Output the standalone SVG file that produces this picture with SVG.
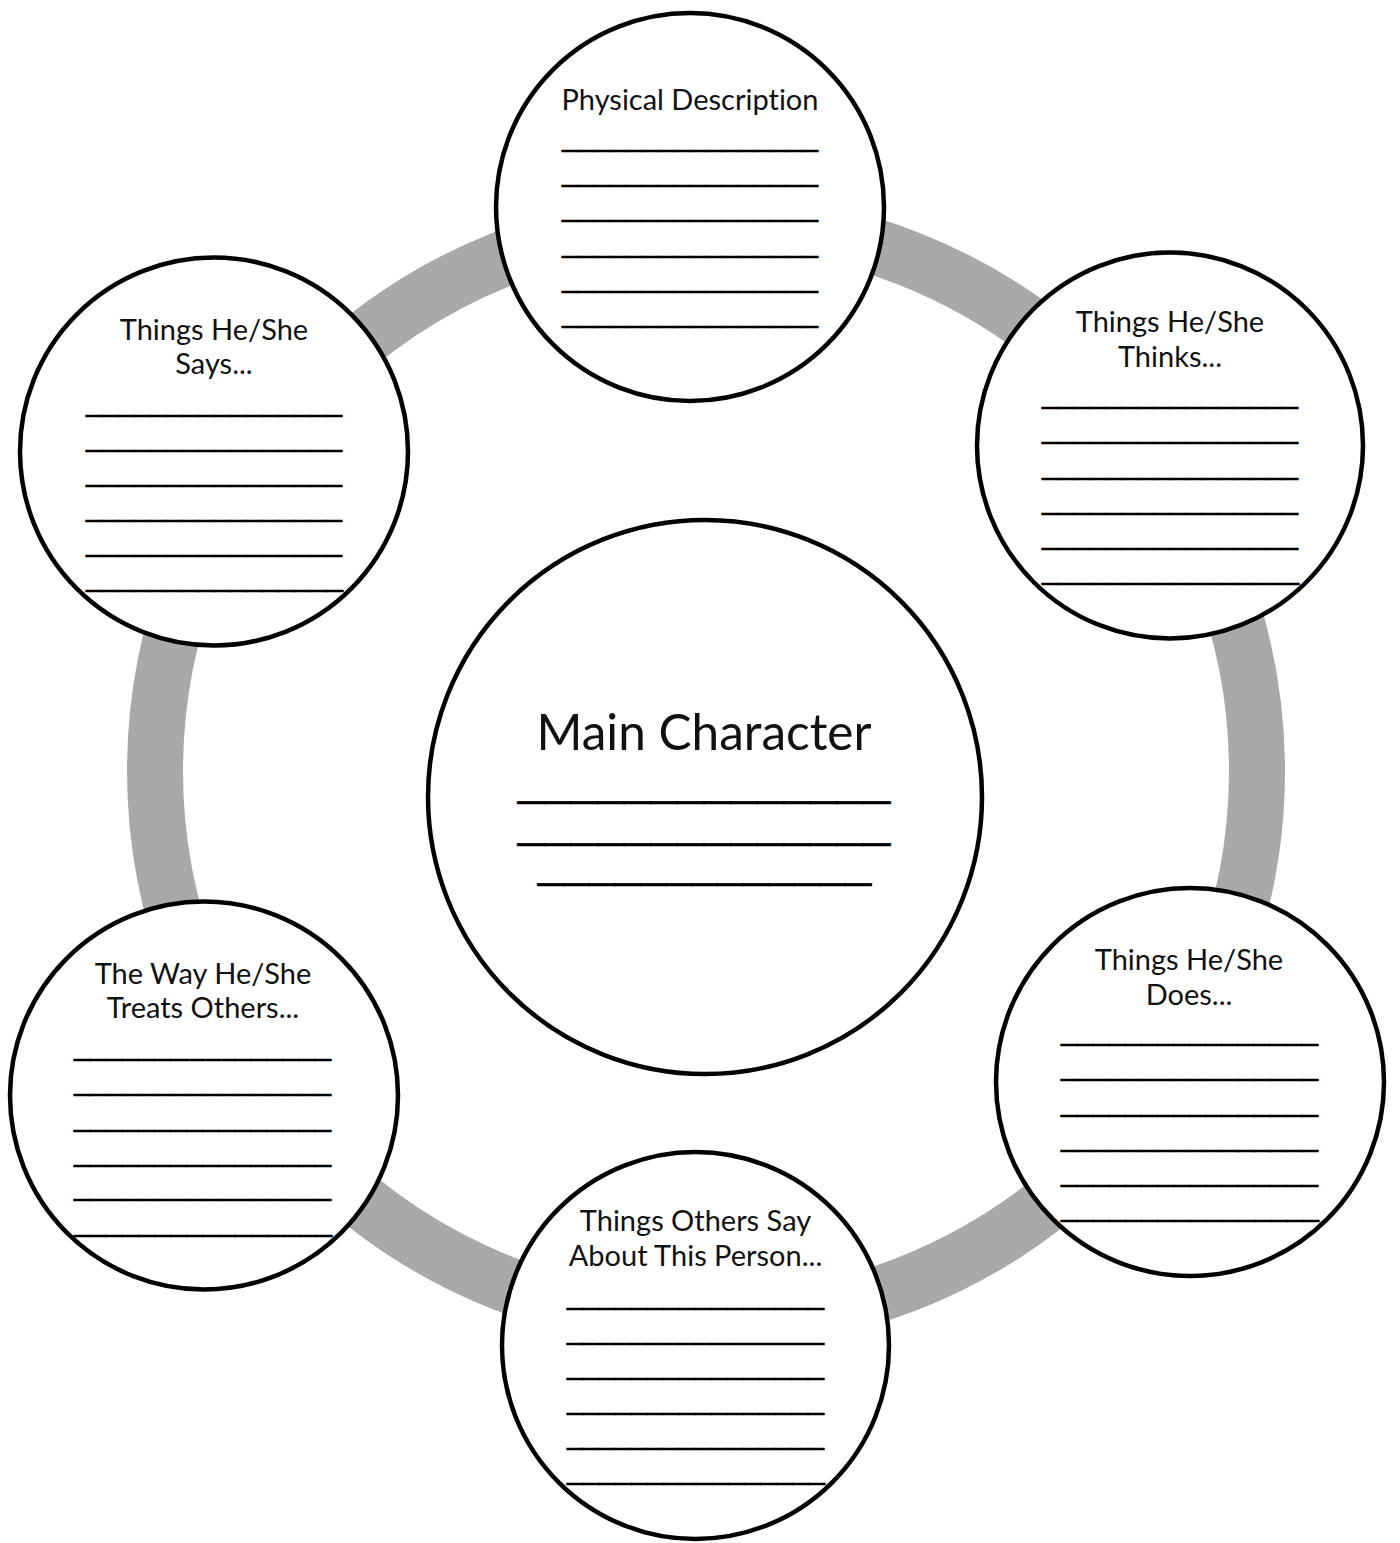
<svg xmlns="http://www.w3.org/2000/svg" width="1400" height="1543" viewBox="0 0 1400 1543">
<style>
.bg{fill:#ffffff}
.ring{fill:none;stroke:#a9a9a9;stroke-width:56}
.node{fill:#ffffff;stroke:#000000;stroke-width:4.5}
.lbl{font-family:Lato,"Liberation Sans",sans-serif;font-size:29px;fill:#111111;text-anchor:middle;font-variant-ligatures:none}
.main{font-family:Lato,"Liberation Sans",sans-serif;font-size:49.5px;fill:#111111;text-anchor:middle;font-variant-ligatures:none}
.ul{font-family:"Liberation Sans",Arial,sans-serif;font-size:32px;fill:#000000;stroke:#000000;stroke-width:0.6}
</style>
<rect class="bg" x="0" y="0" width="1400" height="1543"/>
<g id="connectors">
<circle class="ring" cx="706" cy="771" r="551"/>
</g>
<g id="physical-description">
<circle class="node" cx="690" cy="207" r="194"/>
<text class="lbl" x="690" y="110">Physical Description</text>
<text class="ul" x="562" y="145.5" textLength="256" lengthAdjust="spacingAndGlyphs">________________</text>
<text class="ul" x="562" y="181" textLength="256" lengthAdjust="spacingAndGlyphs">________________</text>
<text class="ul" x="562" y="216" textLength="256" lengthAdjust="spacingAndGlyphs">________________</text>
<text class="ul" x="562" y="251.5" textLength="256" lengthAdjust="spacingAndGlyphs">________________</text>
<text class="ul" x="562" y="286.5" textLength="256" lengthAdjust="spacingAndGlyphs">________________</text>
<text class="ul" x="562" y="322" textLength="256" lengthAdjust="spacingAndGlyphs">________________</text>
</g>
<g id="things-thinks">
<circle class="node" cx="1170" cy="445.5" r="193"/>
<text class="lbl" x="1170" y="332">Things He/She</text>
<text class="lbl" x="1170" y="367">Thinks...</text>
<text class="ul" x="1042" y="403" textLength="256" lengthAdjust="spacingAndGlyphs">________________</text>
<text class="ul" x="1042" y="438" textLength="256" lengthAdjust="spacingAndGlyphs">________________</text>
<text class="ul" x="1042" y="474" textLength="256" lengthAdjust="spacingAndGlyphs">________________</text>
<text class="ul" x="1042" y="508.5" textLength="256" lengthAdjust="spacingAndGlyphs">________________</text>
<text class="ul" x="1042" y="543.5" textLength="256" lengthAdjust="spacingAndGlyphs">________________</text>
<text class="ul" x="1042" y="578.5" textLength="257" lengthAdjust="spacingAndGlyphs">________________</text>
</g>
<g id="things-says">
<circle class="node" cx="214" cy="451.5" r="194"/>
<text class="lbl" x="214" y="339.5">Things He/She</text>
<text class="lbl" x="214" y="373.5">Says...</text>
<text class="ul" x="86" y="410.5" textLength="256" lengthAdjust="spacingAndGlyphs">________________</text>
<text class="ul" x="86" y="445.5" textLength="256" lengthAdjust="spacingAndGlyphs">________________</text>
<text class="ul" x="86" y="481" textLength="256" lengthAdjust="spacingAndGlyphs">________________</text>
<text class="ul" x="86" y="515.5" textLength="256" lengthAdjust="spacingAndGlyphs">________________</text>
<text class="ul" x="86" y="551" textLength="256" lengthAdjust="spacingAndGlyphs">________________</text>
<text class="ul" x="86" y="586" textLength="257" lengthAdjust="spacingAndGlyphs">________________</text>
</g>
<g id="main-character">
<circle class="node" cx="705" cy="797" r="277"/>
<text class="main" x="704" y="750">Main Character</text>
<text class="ul" x="518" y="796" textLength="372" lengthAdjust="spacingAndGlyphs" style="font-size:40px">______________</text>
<text class="ul" x="518" y="838" textLength="372" lengthAdjust="spacingAndGlyphs" style="font-size:40px">______________</text>
<text class="ul" x="538" y="878" textLength="333" lengthAdjust="spacingAndGlyphs" style="font-size:40px">_____________</text>
</g>
<g id="things-does">
<circle class="node" cx="1190" cy="1082" r="194"/>
<text class="lbl" x="1189" y="970">Things He/She</text>
<text class="lbl" x="1189" y="1004.5">Does...</text>
<text class="ul" x="1061" y="1040" textLength="257" lengthAdjust="spacingAndGlyphs">________________</text>
<text class="ul" x="1061" y="1075" textLength="257" lengthAdjust="spacingAndGlyphs">________________</text>
<text class="ul" x="1061" y="1110.5" textLength="257" lengthAdjust="spacingAndGlyphs">________________</text>
<text class="ul" x="1061" y="1145.5" textLength="257" lengthAdjust="spacingAndGlyphs">________________</text>
<text class="ul" x="1061" y="1180.5" textLength="257" lengthAdjust="spacingAndGlyphs">________________</text>
<text class="ul" x="1061" y="1215.5" textLength="258" lengthAdjust="spacingAndGlyphs">________________</text>
</g>
<g id="treats-others">
<circle class="node" cx="204" cy="1095.5" r="194"/>
<text class="lbl" x="203" y="983.5">The Way He/She</text>
<text class="lbl" x="203" y="1018">Treats Others...</text>
<text class="ul" x="74" y="1055" textLength="257" lengthAdjust="spacingAndGlyphs">________________</text>
<text class="ul" x="74" y="1090" textLength="257" lengthAdjust="spacingAndGlyphs">________________</text>
<text class="ul" x="74" y="1125.5" textLength="257" lengthAdjust="spacingAndGlyphs">________________</text>
<text class="ul" x="74" y="1160.5" textLength="257" lengthAdjust="spacingAndGlyphs">________________</text>
<text class="ul" x="74" y="1195" textLength="257" lengthAdjust="spacingAndGlyphs">________________</text>
<text class="ul" x="74" y="1231" textLength="258" lengthAdjust="spacingAndGlyphs">________________</text>
</g>
<g id="others-say">
<circle class="node" cx="695.5" cy="1345.5" r="193.5"/>
<text class="lbl" x="695.5" y="1231">Things Others Say</text>
<text class="lbl" x="695.5" y="1266">About This Person...</text>
<text class="ul" x="567" y="1303.5" textLength="257" lengthAdjust="spacingAndGlyphs">________________</text>
<text class="ul" x="567" y="1338.5" textLength="257" lengthAdjust="spacingAndGlyphs">________________</text>
<text class="ul" x="567" y="1373.5" textLength="257" lengthAdjust="spacingAndGlyphs">________________</text>
<text class="ul" x="567" y="1409" textLength="257" lengthAdjust="spacingAndGlyphs">________________</text>
<text class="ul" x="567" y="1444" textLength="257" lengthAdjust="spacingAndGlyphs">________________</text>
<text class="ul" x="567" y="1479" textLength="258" lengthAdjust="spacingAndGlyphs">________________</text>
</g>
</svg>
